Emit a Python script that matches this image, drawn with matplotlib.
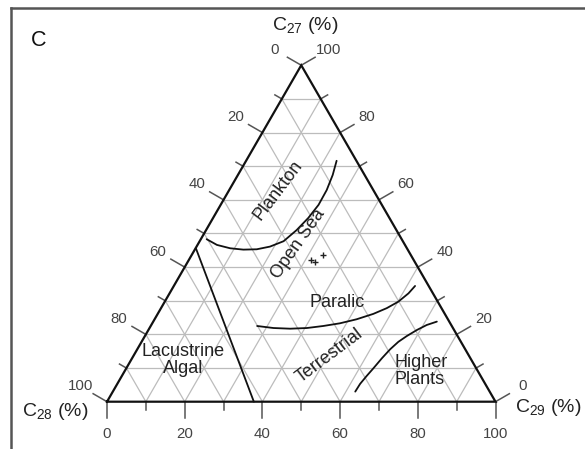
import numpy as np
import matplotlib
matplotlib.use("Agg")
import matplotlib.pyplot as plt
from matplotlib.lines import Line2D

plt.rcParams['font.family'] = ['Liberation Sans', 'DejaVu Sans']
plt.rcParams['mathtext.fontset'] = 'custom'
plt.rcParams['mathtext.rm'] = 'Liberation Sans'
plt.rcParams['mathtext.it'] = 'Liberation Sans:italic'

# ---------------- data (ternary percentages: C27 top, C28 bottom-left, C29 bottom-right)
tick_values = [0, 20, 40, 60, 80, 100]
grid_values = list(range(10, 100, 10))

# Boundary curves as (C27, C29) pairs, C28 = 100 - C27 - C29
plankton_c27 = [48.3, 46.6, 45.6, 45.2, 45.3, 46.1, 47.7, 51.0, 54.6, 58.5, 62.9, 67.4, 71.6]
plankton_c29 = [1.5, 5.0, 8.9, 12.5, 15.9, 18.9, 21.6, 23.3, 24.5, 25.2, 25.1, 24.4, 23.3]

lacustrine_c27 = [45.7, 0.0]
lacustrine_c29 = [0.0, 37.8]

paralic_c27 = [22.5, 21.9, 21.7, 21.9, 22.5, 23.3, 24.5, 26.1, 27.8, 29.7, 32.2, 34.4]
paralic_c29 = [27.4, 31.9, 36.3, 40.5, 44.4, 48.3, 52.0, 55.5, 58.1, 60.1, 61.5, 62.1]

plants_c27 = [3.0, 5.3, 7.6, 9.9, 12.9, 15.6, 17.8, 19.5, 21.3, 22.8, 23.8]
plants_c29 = [62.4, 62.5, 63.0, 63.6, 64.3, 65.1, 66.1, 67.4, 69.1, 70.9, 73.0]

# Samples
sample_c27 = [42.1, 41.6, 43.6]
sample_c29 = [31.5, 32.7, 33.9]

S3 = np.sqrt(3) / 2


def tern(c27, c29):
    c27 = np.asarray(c27, float)
    c29 = np.asarray(c29, float)
    return c29 + c27 / 2.0, c27 * S3


# ---------------- figure
W, H = 585, 449
fig = plt.figure(figsize=(W / 100, H / 100), dpi=100)
ax = fig.add_axes([0, 0, 1, 1])
scale = 3.885  # px per unit
x0px, y0px = 107.0, 401.7
ax.set_xlim(-x0px / scale, (W - x0px) / scale)
ax.set_ylim(-(H - y0px) / scale, y0px / scale)
ax.set_aspect('equal')
ax.axis('off')

# frame (left and top borders)
fig.add_artist(Line2D([11 / W, 11 / W], [0, 1 - 8 / H], color='#555555', lw=1.8))
fig.add_artist(Line2D([11 / W, 1], [1 - 8 / H, 1 - 8 / H], color='#555555', lw=1.8))

grid_kw = dict(color='#bcbcbc', lw=0.9, zorder=1)
for k in grid_values:
    x, y = tern([k, k], [0, 100 - k]); ax.plot(x, y, **grid_kw)
    x, y = tern([0, 100 - k], [k, k]); ax.plot(x, y, **grid_kw)
    x, y = tern([0, 100 - k], [100 - k, 0]); ax.plot(x, y, **grid_kw)

# triangle
x, y = tern([0, 0, 100, 0], [0, 100, 0, 0])
ax.plot(x, y, color='#111111', lw=1.6, zorder=3, solid_joinstyle='miter')

# ticks
tick_kw = dict(color='#555555', lw=1.1, zorder=2)
maj, mnr = 16 / scale, 8 / scale
lab_off = 31 / scale
d_left = np.array([np.cos(np.radians(150)), np.sin(np.radians(150))])
d_right = np.array([np.cos(np.radians(30)), np.sin(np.radians(30))])
d_bot = np.array([0.0, -1.0])
tick_font = dict(fontsize=10.8, color='#444444', ha='center', va='center')

for v in range(0, 101, 10):
    L = maj if v % 20 == 0 else mnr
    bx, by = tern(0, v)
    ax.plot([bx, bx + d_bot[0] * L], [by, by + d_bot[1] * L], **tick_kw)
    lx, ly = tern(100 - v, 0)
    ax.plot([lx, lx + d_left[0] * L], [ly, ly + d_left[1] * L], **tick_kw)
    rx, ry = tern(v, 100 - v)
    ax.plot([rx, rx + d_right[0] * L], [ry, ry + d_right[1] * L], **tick_kw)

for v in tick_values:
    bx, by = tern(0, v)
    ax.text(bx, by - 32 / scale, str(v), **tick_font)
    lx, ly = tern(100 - v, 0)
    ax.text(lx + d_left[0] * lab_off, ly + d_left[1] * lab_off, str(v), **tick_font)
    rx, ry = tern(v, 100 - v)
    ax.text(rx + d_right[0] * lab_off, ry + d_right[1] * lab_off, str(v), **tick_font)

# axis titles
ttl = dict(fontsize=14, color='#222222', va='center')
ax.text((305 - x0px) / scale, (y0px - 25) / scale, 'C$_{27}$ (%)', ha='center', **ttl)
ax.text((22 - x0px) / scale, (y0px - 411) / scale, 'C$_{28}$ (%)', ha='left', **ttl)
ax.text((515 - x0px) / scale, (y0px - 407) / scale, 'C$_{29}$ (%)', ha='left', **ttl)

# panel label
ax.text((39 - x0px) / scale, (y0px - 40) / scale, 'C', fontsize=15.5, ha='center', va='center', color='#111111')

# boundary curves
curve_kw = dict(color='#111111', lw=1.3, zorder=4, solid_capstyle='round', solid_joinstyle='round')
for c27, c29 in [(plankton_c27, plankton_c29), (lacustrine_c27, lacustrine_c29),
                 (paralic_c27, paralic_c29), (plants_c27, plants_c29)]:
    x, y = tern(c27, c29)
    ax.plot(x, y, **curve_kw)

# samples
x, y = tern(sample_c27, sample_c29)
ax.plot(x, y, linestyle='none', marker='+', ms=5, mew=1.0, color='#222222', zorder=5)

# region labels
lab = dict(fontsize=13, color='#222222', ha='center', va='center', rotation_mode='anchor', zorder=6)
for text, c27, c29, rot in [('Plankton', 62.9, 12.6, 53), ('Open Sea', 46.9, 25.7, 55),
                            ('Paralic', 29.6, 44.4, 0), ('Terrestrial', 13.6, 50.6, 37)]:
    px, py = tern(c27, c29)
    ax.text(px, py, text, rotation=rot, **lab)

px, py = tern(12.4, 13.4)
ax.text(px, py, 'Lacustrine\nAlgal', linespacing=1.0, multialignment='center', **lab)
px, py = tern(9.1, 76.3)
ax.text(px, py, 'Higher\nPlants', linespacing=1.0, multialignment='left', **lab)

fig.savefig('out.png', dpi=100, facecolor='white')
